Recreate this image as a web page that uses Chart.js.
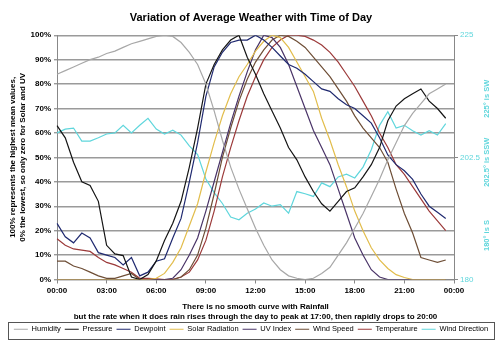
<!DOCTYPE html>
<html>
<head>
<meta charset="utf-8">
<script src="https://cdn.jsdelivr.net/npm/chart.js@4.4.0/dist/chart.umd.min.js"></script>
<style>
  html, body { margin: 0; padding: 0; background: #fff; }
</style>
</head>
<body>
<canvas id="weatherChart" width="500" height="343"></canvas>
<script>
// half-hourly time labels, the last one closes the day
const times = ["00:00","00:30","01:00","01:30","02:00","02:30","03:00","03:30","04:00","04:30","05:00","05:30",
  "06:00","06:30","07:00","07:30","08:00","08:30","09:00","09:30","10:00","10:30","11:00","11:30",
  "12:00","12:30","13:00","13:30","14:00","14:30","15:00","15:30","16:00","16:30","17:00","17:30",
  "18:00","18:30","19:00","19:30","20:00","20:30","21:00","21:30","22:00","22:30","23:00","23:30","00:00"];

// values in % of range (0 = lowest mean, 100 = highest mean)
const humidity = [84,85.5,87,88.5,90,91,92.5,93.5,95,96.5,97.5,98.5,99.5,100,99.5,97,93,88,80,69,57,46,37,29,
  21,14,8,4,1.5,0.5,0,0.5,2.5,5,10,15,21,27,34,41,49,56,63,68,72,76,78,80];
const pressure = [63,58,48,40,38.5,32,14,10.5,9.8,1,0,2,7.6,16,23,32,46,62,80,88,94,98,100,91,
  84,76,69,62,54,49,42,36,31,28,32,36,37.5,42,47,54,65,71,74,76,78,73,70,66];
const dewpoint = [23,17.5,15,19,17,11,10,9,6,9,1.5,3,7.5,8.5,17,25,40,56,75,87,93,97,98,98,
  100,98,95,91.5,88,86.5,84,81,78,77,74,71.5,70,67,64,58,51,47,44.5,41,35,30,27.5,25];
const solar = [0,0,0,0,0,0,0,0,0,0,0,0,0.5,2.5,7,13,22,31,44,56,67,76,83,88,
  93.5,97.5,100,99,95,89,83,77,66,57,47,38,28,20,13,8,4.5,2,0.8,0,0,0,0,0];
const uvIndex = [0,0,0,0,0,0,0,0,0,0,0,0,0,0,0.5,4,10,17,28,40,52,64,75,85,
  94,100,99,95,88,79,70,61,54,47,37,27,17,10,4,1,0,0,0,0,0,0,0,0];
const windSpeed = [7.5,7.5,5.5,4.5,3,1.5,0.5,0.5,1.5,2.5,0,0,0,0,0,1,4,10,21,35,50,62,73,82,
  89,94,98,100,99.5,97.5,95,91,87,83,78,73,67,62,58,54,48,37,27,19,9,8,7,8];
const temperature = [16.7,14,12.5,12,11.5,9,7,6,4.5,3,0.5,0.5,0.3,0,0,1,3,8,16,28,42,54,65,75,
  83,90,95,98,100,100,99.5,98,96,93,89,84,79,73,67,60,54,47,43,38,33,28,24,20];
// degrees, right axis
const windDir = [207,207.7,207.9,205.5,205.5,206.1,206.8,207,208.4,207,208.4,209.7,207.7,206.8,207.5,206.6,
  204.6,203,198.5,196,194,191.5,191,192.2,193,194.1,193.5,193.8,192.2,196.2,195.8,195.3,197.8,197.1,
  198.9,199.4,198.7,200.7,203.9,208.4,210.9,207.9,208.4,207.4,206.6,207.4,206.6,208.7];

const dirTicks = [180, 202.5, 225];
const dirNotes = ["180\u00b0 is S", "202.5\u00b0 is SSW", "225\u00b0 is SW"];

const cyan = '#5fd6dc';
const fontFam = "'Liberation Sans', Arial, sans-serif";
Chart.defaults.font.family = fontFam;

// border round the legend, like the excel one
const legendBox = {
  id: 'legendBox',
  afterDraw(chart) {
    const boxes = chart.legend.legendHitBoxes;
    if (!boxes || !boxes.length) return;
    let l = Infinity, r = -Infinity, t = Infinity, b = -Infinity;
    boxes.forEach(h => {
      l = Math.min(l, h.left); r = Math.max(r, h.left + h.width);
      t = Math.min(t, h.top); b = Math.max(b, h.top + h.height);
    });
    const ctx = chart.ctx;
    ctx.save();
    ctx.strokeStyle = '#555';
    ctx.lineWidth = 1;
    ctx.strokeRect(Math.round(l - 6) + 0.5, Math.round(t - 4) + 0.5, Math.round(r - l + 12), Math.round(b - t + 9));
    ctx.restore();
  }
};

// rotated notes beside the wind direction axis
const dirLabels = {
  id: 'dirLabels',
  afterDraw(chart) {
    const ctx = chart.ctx;
    const y1 = chart.scales.y1;
    const spots = [0.18, 0.48, 0.74];
    ctx.save();
    ctx.fillStyle = cyan;
    ctx.font = 'bold 7.5px ' + fontFam;
    ctx.textAlign = 'center';
    ctx.textBaseline = 'middle';
    dirNotes.forEach((txt, i) => {
      const y = y1.bottom - spots[i] * (y1.bottom - y1.top);
      ctx.save();
      ctx.translate(487, y);
      ctx.rotate(-Math.PI / 2);
      ctx.fillText(txt, 0, 0);
      ctx.restore();
    });
    ctx.restore();
  }
};

function series(label, data, color, axis) {
  return {
    label: label,
    data: data,
    borderColor: color,
    backgroundColor: color,
    borderWidth: 1.2,
    pointRadius: 0,
    tension: 0,
    fill: false,
    yAxisID: axis || 'y'
  };
}

new Chart(document.getElementById('weatherChart'), {
  type: 'line',
  data: {
    labels: times,
    datasets: [
      series('Humidity', humidity, '#a8a8a8'),
      series('Pressure', pressure, '#151515'),
      series('Dewpoint', dewpoint, '#202a70'),
      series('Solar Radiation', solar, '#e2bd4c'),
      series('UV Index', uvIndex, '#4a3468'),
      series('Wind Speed', windSpeed, '#6e4e36'),
      series('Temperature', temperature, '#9c3a3a'),
      series('Wind Direction', windDir, cyan, 'y1')
    ]
  },
  options: {
    responsive: false,
    animation: false,
    layout: { padding: { left: 4, right: 2, top: 2, bottom: 0 } },
    plugins: {
      title: {
        display: true,
        text: 'Variation of Average Weather with Time of Day',
        color: '#000',
        font: { size: 11, weight: 'bold' },
        padding: { top: 9, bottom: 11 }
      },
      legend: {
        position: 'bottom',
        labels: {
          usePointStyle: true,
          pointStyle: 'line',
          pointStyleWidth: 14,
          color: '#000',
          font: { size: 7.5 },
          padding: 4
        }
      },
      tooltip: { enabled: false }
    },
    scales: {
      x: {
        afterFit: s => { s.height = 42; },
        grid: { drawOnChartArea: false, tickLength: 4, color: '#888' },
        border: { color: '#888' },
        ticks: {
          autoSkip: false,
          maxRotation: 0,
          color: '#000',
          font: { size: 8, weight: 'bold' },
          padding: 2,
          callback: (v, i) => (i % 6 === 0 ? times[i] : null)
        },
        title: {
          display: true,
          text: ['There is no smooth curve with Rainfall',
                 'but the rate when it does rain rises through the day to peak at 17:00, then rapidly drops to 20:00'],
          color: '#000',
          font: { size: 8, weight: 'bold' },
          padding: { top: 2, bottom: 0 }
        }
      },
      y: {
        min: 0,
        max: 100,
        afterFit: s => { s.width = 53; },
        grid: { color: '#9a9a9a', lineWidth: 1.4, tickLength: 3 },
        border: { color: '#888' },
        ticks: {
          stepSize: 10,
          color: '#000',
          font: { size: 8, weight: 'bold' },
          padding: 3,
          callback: v => v + '%'
        },
        title: {
          display: true,
          text: ['100% represents the highest mean values,', '0% the lowest, so only zero for Solar and UV'],
          color: '#000',
          font: { size: 8, weight: 'bold' },
          padding: { top: 4, bottom: 2 }
        }
      },
      y1: {
        position: 'right',
        min: 180,
        max: 225,
        afterFit: s => { s.width = 44; },
        afterBuildTicks: s => { s.ticks = dirTicks.map(v => ({ value: v })); },
        grid: { drawOnChartArea: false, tickLength: 4, color: '#888' },
        border: { color: '#888' },
        ticks: { color: cyan, font: { size: 8 }, padding: 2 }
      }
    }
  },
  plugins: [legendBox, dirLabels]
});
</script>
</body>
</html>
